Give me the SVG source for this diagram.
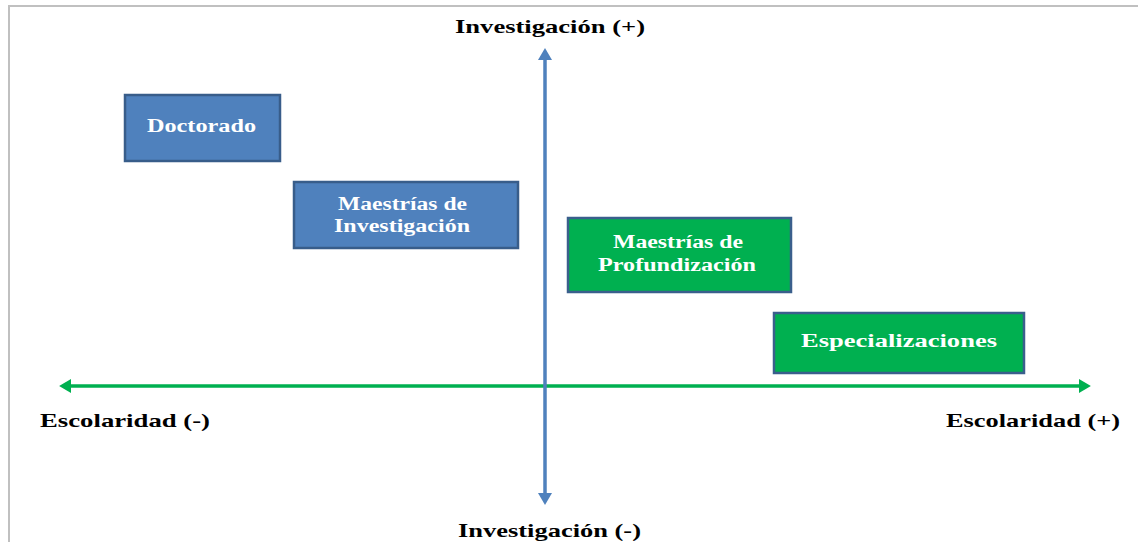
<svg xmlns="http://www.w3.org/2000/svg" width="1138" height="542" viewBox="0 0 1138 542">
<style>
.lbl{font-family:"Liberation Serif","Times New Roman",serif;font-weight:bold;fill:#000;font-size:19px}
.nt{font-family:"Liberation Serif","Times New Roman",serif;font-weight:bold;fill:#fff;font-size:18px;text-anchor:middle}
.blue{fill:#4f81bd;stroke:#385d8a;stroke-width:2.5}
.green{fill:#00b050;stroke:#3a5f8c;stroke-width:2.5}
</style>
<defs>
<marker id="ab" markerWidth="4" markerHeight="4" refX="2" refY="2" orient="auto-start-reverse" markerUnits="strokeWidth"><path d="M0,0 L3.4,2 L0,4 Z" fill="#4f81bd"/></marker>
<marker id="ag" markerWidth="4" markerHeight="4" refX="2" refY="2" orient="auto-start-reverse" markerUnits="strokeWidth"><path d="M0,0 L3.4,2 L0,4 Z" fill="#00b050"/></marker>
</defs>
<rect width="1138" height="542" fill="#fff"/>
<path d="M9,542 V6 H1138" fill="none" stroke="#c0c0c0" stroke-width="2"/>
<g id="connectors">
<line x1="64" y1="386" x2="1086" y2="386" stroke="#00b050" stroke-width="3.5" marker-start="url(#ag)" marker-end="url(#ag)"/>
<line x1="545" y1="53" x2="545" y2="500" stroke="#4f81bd" stroke-width="3.5" marker-start="url(#ab)" marker-end="url(#ab)"/>
</g>
<g id="axis-labels">
<text class="lbl" x="455" y="33" textLength="190" lengthAdjust="spacingAndGlyphs">Investigación (+)</text>
<text class="lbl" x="458" y="537" textLength="183" lengthAdjust="spacingAndGlyphs">Investigación (-)</text>
<text class="lbl" x="40" y="427" textLength="170" lengthAdjust="spacingAndGlyphs">Escolaridad (-)</text>
<text class="lbl" x="946" y="427" textLength="174" lengthAdjust="spacingAndGlyphs">Escolaridad (+)</text>
</g>
<g id="doctorado">
<rect class="blue" x="125" y="95" width="155" height="66"/>
<text class="nt" x="201.5" y="132" textLength="109" lengthAdjust="spacingAndGlyphs">Doctorado</text>
</g>
<g id="maestrias-investigacion">
<rect class="blue" x="294" y="182" width="224" height="66"/>
<text class="nt" x="402.5" y="210" textLength="129" lengthAdjust="spacingAndGlyphs">Maestrías de</text>
<text class="nt" x="402" y="232" textLength="136" lengthAdjust="spacingAndGlyphs">Investigación</text>
</g>
<g id="maestrias-profundizacion">
<rect class="green" x="568" y="218" width="223" height="74"/>
<text class="nt" x="678" y="248" textLength="130" lengthAdjust="spacingAndGlyphs">Maestrías de</text>
<text class="nt" x="677" y="271" textLength="158" lengthAdjust="spacingAndGlyphs">Profundización</text>
</g>
<g id="especializaciones">
<rect class="green" x="774" y="313" width="250" height="60"/>
<text class="nt" x="899" y="347" textLength="196" lengthAdjust="spacingAndGlyphs">Especializaciones</text>
</g>
</svg>
